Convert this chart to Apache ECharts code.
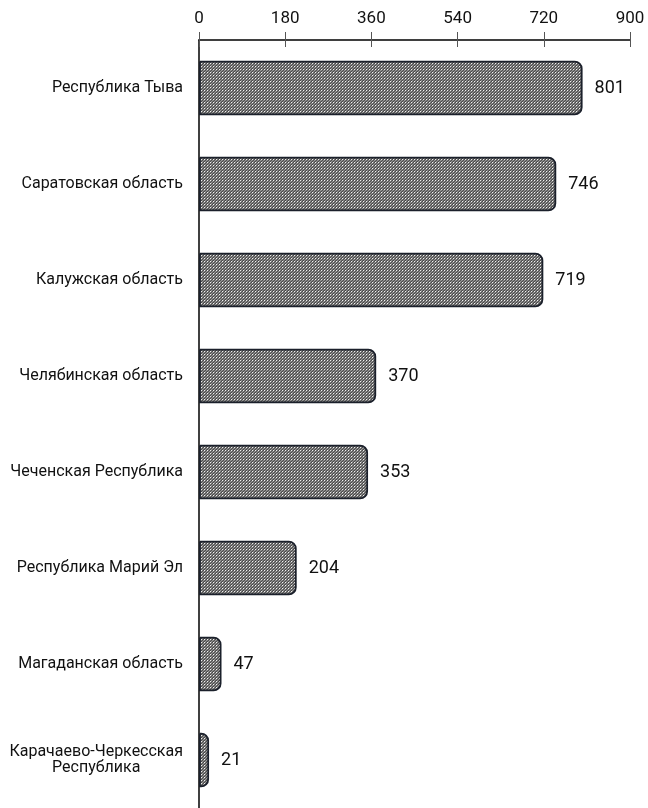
<!DOCTYPE html>
<html><head><meta charset="utf-8">
<script src="https://cdn.jsdelivr.net/npm/echarts@6/dist/echarts.min.js"></script>
<style>html,body{margin:0;padding:0;background:#fff}#c{width:648px;height:808px}</style>
</head><body><div id="c"></div>
<script>
const categories = ['Республика Тыва','Саратовская область','Калужская область','Челябинская область','Чеченская Республика','Республика Марий Эл','Магаданская область','Карачаево-Черкесская\nРеспублика'];
const values = [801,746,719,370,353,204,47,21];
const xTicks = [0,180,360,540,720,900];

function makePattern(){
  const c = document.createElement('canvas');
  c.width = 3; c.height = 3;
  const g = c.getContext('2d');
  const cols = [['#f0f0f0','#7a7a7a','#4a4a4a'],['#7a7a7a','#505050','#9a9a9a'],['#4a4a4a','#9a9a9a','#666666']];
  for(let y=0;y<3;y++)for(let x=0;x<3;x++){g.fillStyle=cols[y][x];g.fillRect(x,y,1,1);}
  return c;
}
const chart = echarts.init(document.getElementById('c'));
const font = 'Roboto';
chart.setOption({
  animation:false,
  grid:{left:199,right:18,top:40,bottom:-4,containLabel:false},
  xAxis:[{
    type:'value',position:'top',min:xTicks[0],max:xTicks[xTicks.length-1],interval:xTicks[1]-xTicks[0],
    axisLine:{show:true,lineStyle:{color:'#000',width:1.5}},
    axisTick:{show:true,length:8,lineStyle:{color:'#555',width:1}},
    axisLabel:{margin:13,fontSize:17,color:'#111',fontFamily:font},
    splitLine:{show:false}
  },{
    type:'value',position:'top',min:xTicks[0],max:xTicks[xTicks.length-1],interval:xTicks[1]-xTicks[0],
    axisLine:{show:false},
    axisTick:{show:true,inside:true,length:7,lineStyle:{color:'#555',width:1}},
    axisLabel:{show:false},splitLine:{show:false}
  }],
  yAxis:{
    type:'category',inverse:true,data:categories,
    axisLine:{show:true,lineStyle:{color:'#000',width:1.5}},
    axisTick:{show:false},
    axisLabel:{margin:16,fontSize:16,color:'#111',fontFamily:font,
      formatter:function(v){return v.split('\n').map(s=>'{a|'+s+'}').join('\n');},
      rich:{a:{align:'center',fontSize:16,fontFamily:font,color:'#111',lineHeight:16}}}
  },
  series:[{
    type:'bar',data:values,barCategoryGap:'43%',
    itemStyle:{color:{image:makePattern(),repeat:'repeat'},borderColor:'#1b202b',borderWidth:1.8,borderRadius:[0,7,7,0]},
    label:{show:true,position:'right',distance:12,fontSize:18,color:'#111',fontFamily:font}
  }]
});
</script></body></html>
